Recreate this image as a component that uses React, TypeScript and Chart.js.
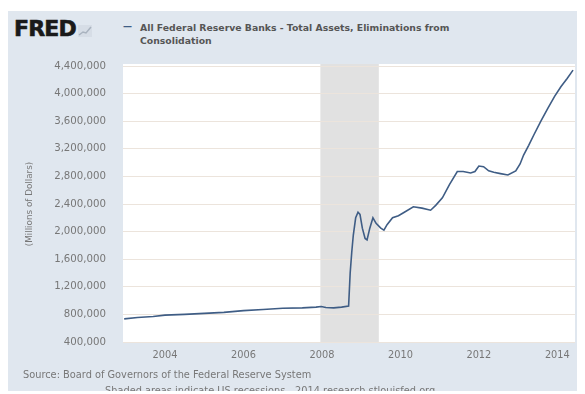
import React, { useEffect, useRef } from "react";
import { Chart, registerables } from "chart.js";

Chart.register(...registerables);

// Decimal-year dates and values (millions of dollars)
const dates: number[] = [
  2002.96, 2003.3, 2003.7, 2004.0, 2004.5, 2005.0, 2005.5, 2006.0, 2006.5, 2007.0,
  2007.5, 2007.85, 2007.98, 2008.1, 2008.3, 2008.5, 2008.68, 2008.72, 2008.76, 2008.8,
  2008.86, 2008.92, 2008.97, 2009.03, 2009.1, 2009.15, 2009.22, 2009.3, 2009.38, 2009.5,
  2009.58, 2009.66, 2009.8, 2009.95, 2010.1, 2010.33, 2010.55, 2010.77, 2010.9, 2011.07,
  2011.25, 2011.45, 2011.6, 2011.79, 2011.9, 2012.0, 2012.12, 2012.25, 2012.38, 2012.55,
  2012.74, 2012.94, 2013.05, 2013.14, 2013.27, 2013.4, 2013.58, 2013.76, 2013.93, 2014.09,
  2014.25, 2014.4,
];
const totalAssets: number[] = [
  735000, 755000, 770000, 790000, 800000, 815000, 830000, 855000, 870000, 890000,
  895000, 905000, 915000, 900000, 895000, 905000, 920000, 1400000, 1700000, 1950000,
  2200000, 2280000, 2250000, 2050000, 1900000, 1880000, 2050000, 2200000, 2120000, 2050000,
  2020000, 2100000, 2200000, 2230000, 2280000, 2360000, 2340000, 2310000, 2380000, 2490000,
  2680000, 2870000, 2870000, 2850000, 2870000, 2950000, 2940000, 2880000, 2860000, 2840000,
  2820000, 2880000, 2980000, 3110000, 3250000, 3400000, 3600000, 3790000, 3960000, 4100000,
  4220000, 4340000,
];
const yTicks: number[] = [400000, 800000, 1200000, 1600000, 2000000, 2400000, 2800000, 3200000, 3600000, 4000000, 4400000];
const xTickYears: number[] = [2004, 2006, 2008, 2010, 2012, 2014];
const recessionStart: number[] = [2007.96];
const recessionEnd: number[] = [2009.45];

const seriesLabel = "All Federal Reserve Banks - Total Assets, Eliminations from Consolidation";

const FONT = "'DejaVu Sans', Verdana, sans-serif";

export default function App() {
  const canvasRef = useRef<HTMLCanvasElement | null>(null);

  useEffect(() => {
    const canvas = canvasRef.current;
    if (!canvas) return;

    const bgPlugin = {
      id: "plotBg",
      beforeDraw(chart: any) {
        const { ctx, chartArea, scales } = chart;
        ctx.save();
        ctx.fillStyle = "#ffffff";
        ctx.fillRect(chartArea.left, chartArea.top - 2, chartArea.right - chartArea.left, chartArea.bottom - chartArea.top + 2);
        ctx.fillStyle = "#e1e1e1";
        for (let i = 0; i < recessionStart.length; i++) {
          const x0 = scales.x.getPixelForValue(recessionStart[i]);
          const x1 = scales.x.getPixelForValue(recessionEnd[i]);
          ctx.fillRect(x0, chartArea.top - 2, x1 - x0, chartArea.bottom - chartArea.top + 2);
        }
        ctx.restore();
      },
    };

    const chart = new Chart(canvas, {
      type: "line",
      data: {
        datasets: [
          {
            label: seriesLabel,
            data: dates.map((d, i) => ({ x: d, y: totalAssets[i] })),
            borderColor: "#3f5d85",
            borderWidth: 1.6,
            pointRadius: 0,
            tension: 0,
            fill: false,
          },
        ],
      },
      options: {
        animation: false,
        responsive: false,
        maintainAspectRatio: false,
        devicePixelRatio: 1,
        layout: { padding: { left: 0, top: 55, right: 10, bottom: 32 } },
        plugins: { legend: { display: false }, tooltip: { enabled: false } },
        scales: {
          x: {
            type: "linear",
            min: 2002.93,
            max: 2014.45,
            afterBuildTicks(scale: any) {
              scale.ticks = xTickYears.map((v) => ({ value: v }));
            },
            afterFit(scale: any) {
              scale.height = 20;
            },
            grid: { display: false, drawTicks: false },
            border: { display: false },
            ticks: {
              padding: 8,
              color: "#777",
              font: { family: FONT, size: 9.8 },
              maxRotation: 0,
              callback: (v: any) => String(v),
            },
          },
          y: {
            min: 400000,
            max: 4400000,
            afterBuildTicks(scale: any) {
              scale.ticks = yTicks.map((v) => ({ value: v }));
            },
            afterFit(scale: any) {
              scale.width = 115;
            },
            grid: { color: "#ece4dc", lineWidth: 1, drawTicks: false },
            border: { display: false },
            title: {
              display: true,
              text: "(Millions of Dollars)",
              color: "#777",
              font: { family: FONT, size: 8.8 },
              padding: { top: 16, bottom: 0 },
            },
            ticks: {
              padding: 17,
              color: "#777",
              font: { family: FONT, size: 10.2 },
              callback: (v: any) => Number(v).toLocaleString("en-US"),
            },
          },
        },
      },
      plugins: [bgPlugin],
    });

    return () => chart.destroy();
  }, []);

  return (
    <div
      style={{
        position: "relative",
        top: 3,
        width: 577,
        height: 383,
        background: "#e0e7ef",
        overflow: "hidden",
        fontFamily: FONT,
      }}
    >
      <div
        style={{
          position: "absolute",
          left: 6,
          top: 5,
          fontSize: 22,
          fontWeight: 900,
          color: "#1a1a1a",
          letterSpacing: -0.8,
          lineHeight: "26px",
          WebkitTextStroke: "0.6px #1a1a1a",
        }}
      >
        FRED
      </div>
      <svg style={{ position: "absolute", left: 70, top: 14 }} width="14" height="12" viewBox="0 0 14 12">
        <rect x="0" y="0" width="14" height="12" fill="#d6dde6" />
        <polyline points="1,10 5,7 8,8 13,2" fill="none" stroke="#a9b3bf" strokeWidth="1.5" />
      </svg>
      <div
        style={{
          position: "absolute",
          left: 115,
          top: 10,
          width: 20,
          fontSize: 9,
          fontWeight: "bold",
          color: "#3f5d85",
        }}
      >
        —
      </div>
      <div
        style={{
          position: "absolute",
          left: 132,
          top: 10,
          width: 345,
          fontSize: 9.3,
          lineHeight: "13px",
          fontWeight: "bold",
          color: "#555",
        }}
      >
        {seriesLabel}
      </div>
      <canvas ref={canvasRef} width={577} height={383} style={{ position: "absolute", left: 0, top: 0 }} />
      <div
        style={{
          position: "absolute",
          left: 15,
          top: 358,
          fontSize: 9.8,
          color: "#777",
          whiteSpace: "nowrap",
        }}
      >
        Source: Board of Governors of the Federal Reserve System
      </div>
      <div
        style={{
          position: "absolute",
          left: 97,
          top: 374,
          fontSize: 9.8,
          color: "#777",
          whiteSpace: "nowrap",
        }}
      >
        Shaded areas indicate US recessions - 2014 research.stlouisfed.org
      </div>
    </div>
  );
}
